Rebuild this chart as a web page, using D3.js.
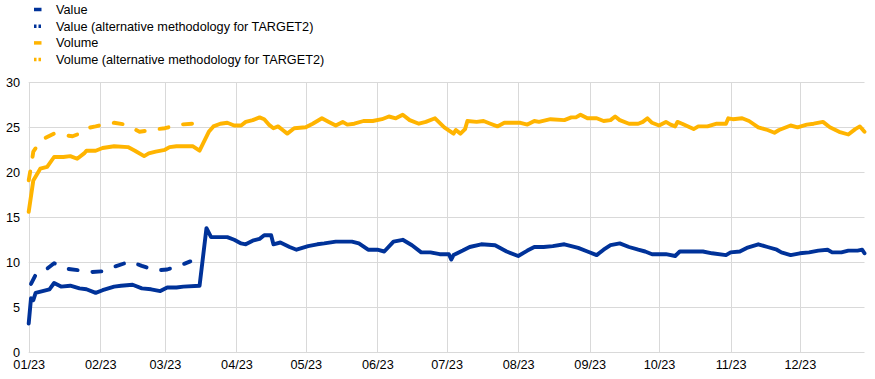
<!DOCTYPE html>
<html>
<head>
<meta charset="utf-8">
<script src="https://cdn.jsdelivr.net/npm/d3@7"></script>
<style>
  html, body { margin: 0; padding: 0; background: #fff; }
  svg { display: block; }
  text { font-family: Arial, "Liberation Sans", sans-serif; fill: #000; }
</style>
</head>
<body>
<svg id="chart" width="875" height="379"></svg>
<script>
// ---- Data (days since 1 Jan 2023, value in EUR trillions / millions of transactions) ----
const seriesNames = ["Value", "Value (alternative methodology for TARGET2)", "Volume", "Volume (alternative methodology for TARGET2)"];
const monthTickLabels = ["01/23","02/23","03/23","04/23","05/23","06/23","07/23","08/23","09/23","10/23","11/23","12/23"];
const yTicks = [0, 5, 10, 15, 20, 25, 30];

const valueDays = [0,1,2,3,6,9,11,14,18,22,25,29,32,37,40,45,49,53,57,60,64,67,74,77,79,86,89,92,94,97,100,102,105,106,109,113,116,121,125,128,133,140,143,147,151,154,158,162,166,170,174,178,182,183,184,188,191,196,202,207,212,216,219,223,227,232,238,242,246,249,252,256,260,264,267,270,273,276,280,282,288,292,296,302,304,308,311,316,320,324,326,330,334,338,342,346,348,352,355,359,361,362];
const valueVals = [3.2,6.0,5.8,6.6,6.8,7.0,7.7,7.3,7.4,7.1,7.0,6.6,6.9,7.3,7.4,7.5,7.1,7.0,6.8,7.2,7.2,7.3,7.4,13.8,12.8,12.8,12.5,12.1,12.0,12.4,12.6,13.0,13.0,12.0,12.2,11.7,11.4,11.8,12.0,12.1,12.3,12.3,12.1,11.4,11.4,11.2,12.3,12.5,11.9,11.1,11.1,10.9,10.9,10.3,10.8,11.3,11.7,12.0,11.9,11.2,10.7,11.3,11.7,11.7,11.8,12.0,11.6,11.2,10.8,11.4,11.9,12.1,11.7,11.4,11.2,10.9,10.9,10.9,10.7,11.2,11.2,11.2,11.0,10.8,11.1,11.2,11.6,12.0,11.7,11.4,11.1,10.8,11.0,11.1,11.3,11.4,11.1,11.1,11.3,11.3,11.4,11.0];

const valueAltDays = [1,3,6,11,16,22,26,32,37,44,49,55,60,65,70];
const valueAltVals = [7.6,8.6,8.9,9.9,9.3,9.1,8.9,9.0,9.5,10.1,9.6,9.1,9.2,9.6,10.1];

const volumeDays = [0,2,5,8,11,15,18,21,24,25,29,32,37,43,46,50,52,55,59,61,64,71,74,78,80,83,86,89,92,94,97,100,102,104,106,108,110,112,115,120,123,127,130,133,136,138,141,145,149,153,156,159,162,165,169,172,176,180,184,185,187,189,190,194,197,200,203,206,210,213,216,219,221,226,232,235,237,239,242,246,249,252,254,256,260,264,266,268,270,273,276,278,280,281,283,288,290,294,298,302,303,305,309,312,316,320,323,325,330,333,337,340,344,347,351,355,358,360,362];
const volumeVals = [15.6,19.1,20.4,20.6,21.7,21.7,21.8,21.5,22.1,22.4,22.4,22.7,22.9,22.8,22.4,21.8,22.1,22.3,22.5,22.8,22.9,22.9,22.4,24.5,25.1,25.4,25.5,25.2,25.2,25.6,25.8,26.1,25.9,25.3,24.9,25.1,24.7,24.3,24.9,25.0,25.4,26.0,25.6,25.2,25.6,25.3,25.4,25.7,25.7,25.9,26.2,26.0,26.4,25.8,25.4,25.6,26.0,25.0,24.3,24.7,24.3,24.8,25.7,25.6,25.7,25.4,25.1,25.5,25.5,25.5,25.3,25.7,25.6,25.9,25.8,26.1,26.1,26.4,26.0,26.0,25.7,25.8,26.2,25.8,25.4,25.4,25.6,26.0,25.5,25.2,25.6,25.3,25.1,25.6,25.4,24.8,25.1,25.1,25.4,25.4,26.0,25.9,26.0,25.7,25.0,24.7,24.4,24.7,25.2,25.0,25.3,25.4,25.6,25.0,24.5,24.2,24.8,25.1,24.5];

const volumeAltDays = [0,1,2,5,7,11,16,19,21,25,29,32,37,42,45,48,53,59,65,71];
const volumeAltVals = [19.1,20.6,22.3,23.4,23.8,24.3,24.1,24.0,24.2,24.9,25.1,25.3,25.5,25.3,24.9,24.5,24.7,24.9,25.3,25.4];

// ---- Layout ----
const BLUE = "#003299", YELLOW = "#ffb400", GRID = "#d9d9d9";
const FONT = "Arial, 'Liberation Sans', sans-serif";
const FS = 12.7;
const start = new Date(2023, 0, 1);
const toDate = d => d3.timeDay.offset(start, d);
const svg = d3.select("#chart");

const x = d3.scaleTime().domain([start, new Date(2023, 11, 29)]).range([28.7, 864.5]);
const y = d3.scaleLinear().domain([0, 30]).range([352.3, 82.3]);

const monthStarts = d3.range(12).map(m => new Date(2023, m, 1));

// horizontal grid
svg.append("g").selectAll("line").data(yTicks).join("line")
  .attr("x1", x.range()[0]).attr("x2", x.range()[1])
  .attr("y1", d => Math.round(y(d)) + 0.5).attr("y2", d => Math.round(y(d)) + 0.5)
  .attr("stroke", GRID).attr("stroke-width", 1);

// vertical grid
svg.append("g").selectAll("line").data(monthStarts).join("line")
  .attr("x1", d => Math.round(x(d)) + 0.5).attr("x2", d => Math.round(x(d)) + 0.5)
  .attr("y1", y(30)).attr("y2", y(0))
  .attr("stroke", GRID).attr("stroke-width", 1);

// y axis labels
const yAxis = d3.axisLeft(y).tickValues(yTicks).tickSize(0).tickPadding(0);
const gy = svg.append("g").attr("transform", "translate(20,0)").call(yAxis);
gy.select(".domain").remove();
gy.selectAll("text").attr("font-size", FS).attr("fill", "#000").attr("font-family", FONT);

// x axis labels
const xAxis = d3.axisBottom(x).tickValues(monthStarts).tickSize(0).tickPadding(0)
  .tickFormat((d, i) => monthTickLabels[i]);
const gx = svg.append("g").attr("transform", "translate(0,360)").call(xAxis);
gx.select(".domain").remove();
gx.selectAll("text").attr("font-size", FS).attr("fill", "#000").attr("font-family", FONT);

// lines
const line = d3.line().x(d => x(toDate(d[0]))).y(d => y(d[1]));
const zip = (a, b) => a.map((d, i) => [d, b[i]]);
const series = [
  { data: zip(valueDays, valueVals), color: BLUE, dash: null },
  { data: zip(valueAltDays, valueAltVals), color: BLUE, dash: "9,15" },
  { data: zip(volumeDays, volumeVals), color: YELLOW, dash: null },
  { data: zip(volumeAltDays, volumeAltVals), color: YELLOW, dash: "9,15" }
];
svg.append("g").selectAll("path").data(series).join("path")
  .attr("d", d => line(d.data))
  .attr("fill", "none")
  .attr("stroke", d => d.color)
  .attr("stroke-width", 3.9)
  .attr("stroke-linejoin", "round")
  .attr("stroke-linecap", "round")
  .attr("stroke-dasharray", d => d.dash);

// legend
const legendColors = [BLUE, BLUE, YELLOW, YELLOW];
const legendDashed = [false, true, false, true];
const lg = svg.append("g");
seriesNames.forEach((name, i) => {
  const cy = 9.5 + i * 16.7;
  lg.append("line").attr("x1", 34).attr("x2", 41.5).attr("y1", cy).attr("y2", cy)
    .attr("stroke", legendColors[i]).attr("stroke-width", 3.5)
    .attr("stroke-dasharray", legendDashed[i] ? "2.5,2" : null);
  lg.append("text").attr("x", 56).attr("y", cy + 4.4).attr("font-size", FS)
    .attr("font-family", FONT).text(name);
});
</script>
</body>
</html>
